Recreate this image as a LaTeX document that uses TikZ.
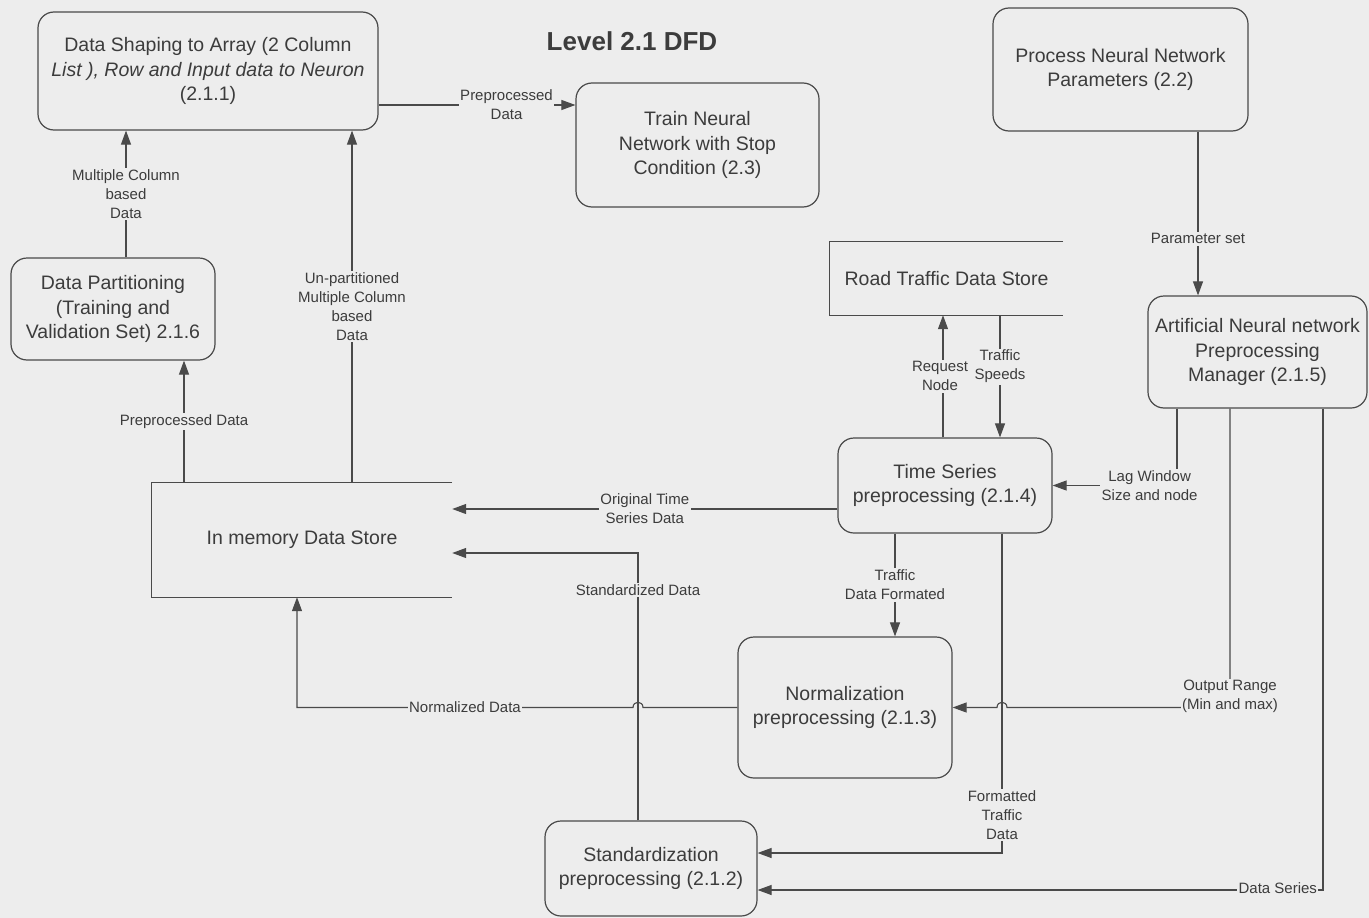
\documentclass[tikz,border=0pt]{standalone}
\usepackage{fontspec}
\setmainfont{Liberation Sans}
\usetikzlibrary{arrows.meta,calc}
\definecolor{paper}{HTML}{EDEDED}
\definecolor{ink}{HTML}{4A4A4A}
\definecolor{txt}{HTML}{3C3C3C}

\begin{document}
\begin{tikzpicture}[x=1pt,y=-1pt,
  proc/.style={draw=ink, line width=1.2pt, rounded corners=16pt, align=center,
    text=txt, font=\fontsize{19.5}{24.5}\selectfont, inner sep=0pt},
  store/.style={align=center, text=txt, font=\fontsize{19.5}{24.5}\selectfont, inner sep=0pt},
  storeline/.style={draw=ink, line width=1.2pt},
  flow/.style={draw=ink, line width=1.1pt, -{Triangle[length=14pt,width=10pt]}},
  lbl/.style={fill=paper, text=txt, align=center, font=\fontsize{15}{19}\selectfont, inner sep=1.5pt},
]
\fill[paper] (0,0) rectangle (1369,918);
\useasboundingbox (0,0) rectangle (1369,918);

% title
\node[font=\fontsize{26}{30}\selectfont\bfseries, text=txt] (title) at (632,41) {Level 2.1 DFD};

% processes
\node[proc, minimum width=340pt, minimum height=118pt] (shaping) at (208,71)
  {Data Shaping to Array (2 Column\\\textit{List ), Row and Input data to Neuron}\\(2.1.1)};
\node[proc, minimum width=243pt, minimum height=124pt] (train) at (697.5,145)
  {Train Neural\\Network with Stop\\Condition (2.3)};
\node[proc, minimum width=255pt, minimum height=123pt] (process) at (1120.5,69.5)
  {Process Neural Network\\Parameters (2.2)};
\node[proc, minimum width=204pt, minimum height=102pt] (partition) at (113,309)
  {Data Partitioning\\(Training and\\Validation Set) 2.1.6};
\node[proc, minimum width=219pt, minimum height=112pt] (ann) at (1257.5,352)
  {Artificial Neural network\\Preprocessing\\Manager (2.1.5)};
\node[proc, minimum width=214pt, minimum height=95pt] (ts) at (945,485.5)
  {Time Series\\preprocessing (2.1.4)};
\node[proc, minimum width=214pt, minimum height=141pt] (norm) at (845,707.5)
  {Normalization\\preprocessing (2.1.3)};
\node[proc, minimum width=212pt, minimum height=95pt] (std) at (651,868.5)
  {Standardization\\preprocessing (2.1.2)};

% data stores (open on the right)
\node[store, minimum width=233pt, minimum height=73pt] (road) at (946.5,278.5) {Road Traffic Data Store};
\draw[storeline] (road.north east) -- (road.north west) -- (road.south west) -- (road.south east);
\node[store, minimum width=300pt, minimum height=114pt] (mem) at (302,540) {In memory Data Store};
\draw[storeline] (mem.north east) -- (mem.north west) -- (mem.south west) -- (mem.south east);

% anchor points of the flows
\coordinate (ppt)   at ([yshift=-34pt]shaping.east);
\coordinate (mc)    at ([xshift=13pt]partition.north);
\coordinate (pp)    at ([xshift=-118pt]mem.north);
\coordinate (up)    at ([xshift=50pt]mem.north);
\coordinate (req)   at ([xshift=-2pt]ts.north);
\coordinate (spd)   at ([xshift=53.5pt]road.south);
\coordinate (pset)  at ([xshift=77.5pt]process.south);
\coordinate (lag)   at ([xshift=-80.5pt]ann.south);
\coordinate (orng)  at ([xshift=-27.5pt]ann.south);
\coordinate (dser)  at ([xshift=65.5pt]ann.south);
\coordinate (orig)  at ([yshift=-23.5pt]ts.west);
\coordinate (tdf)   at ([xshift=-50pt]ts.south);
\coordinate (ftd)   at ([xshift=57pt]ts.south);
\coordinate (stdtop) at ([xshift=-13pt]std.north);
\coordinate (memin) at ([xshift=-5pt]mem.south);
\coordinate (hopA)  at (stdtop |- norm.west);
\coordinate (hopB)  at (ftd |- norm.east);

% flows
\draw[flow] (ppt) -- (ppt -| train.west) node[lbl,pos=0.65] {Preprocessed\\Data};
\draw[flow] (mc) -- (mc |- shaping.south) node[lbl,midway] {Multiple Column\\based\\Data};
\draw[flow] (pp) -- (pp |- partition.south) node[lbl,midway] {Preprocessed Data};
\draw[flow] (up) -- (up |- shaping.south) node[lbl,midway] {Un-partitioned\\Multiple Column\\based\\Data};

\draw[flow] (req) -- (req |- road.south) node[lbl,midway,xshift=-3pt] {Request\\Node};
\draw[flow] (spd) -- (spd |- ts.north) node[lbl,pos=0.42] {Traffic\\Speeds};
\draw[flow] (pset) -- (pset |- ann.north) node[lbl,pos=0.655] {Parameter set};
\draw[flow] (lag) |- (ts.east) node[lbl,pos=0.61] {Lag Window\\Size and node};

\draw[flow] (orig) -- (orig -| mem.east) node[lbl,midway] {Original Time\\Series Data};
\draw[flow] (tdf) -- (tdf |- norm.north) node[lbl,midway] {Traffic\\Data Formated};
\draw[flow] (ftd) |- ([yshift=15.5pt]std.east) node[lbl,pos=0.44] {Formatted\\Traffic\\Data};
\draw[flow] (dser) |- ([yshift=-21.5pt]std.east) node[lbl,pos=0.54,yshift=2pt] {Data Series};

\draw[flow] (orng) -- (orng |- norm.east) node[lbl,pos=1,yshift=11pt] {Output Range\\(Min and max)}
  -- ([xshift=5pt]hopB) .. controls ([xshift=5pt,yshift=7pt]hopB) and ([xshift=-5pt,yshift=7pt]hopB) .. ([xshift=-5pt]hopB)
  -- (norm.east);

\draw[flow] (norm.west) -- ([xshift=5pt]hopA)
  .. controls ([xshift=5pt,yshift=7pt]hopA) and ([xshift=-5pt,yshift=7pt]hopA) .. ([xshift=-5pt]hopA)
  -- (memin |- norm.west) node[lbl,midway] {Normalized Data} -- (memin);

\draw[flow] (stdtop) |- ([yshift=-13pt]mem.east) node[lbl,pos=0.43] {Standardized Data};

\end{tikzpicture}
\end{document}
